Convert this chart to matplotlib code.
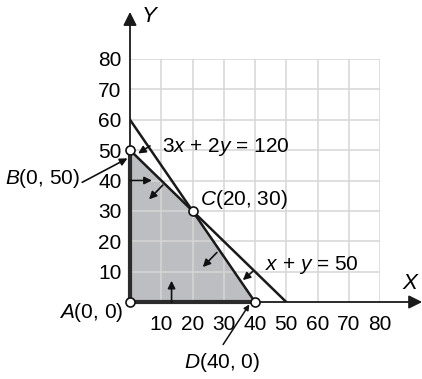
import numpy as np
import matplotlib.pyplot as plt
from matplotlib import font_manager

names = set(f.name for f in font_manager.fontManager.ttflist)
fam = 'Liberation Sans Narrow' if 'Liberation Sans Narrow' in names else 'Liberation Sans'
plt.rcParams['font.family'] = [fam, 'DejaVu Sans']
plt.rcParams['mathtext.fontset'] = 'custom'
plt.rcParams['mathtext.rm'] = fam
plt.rcParams['mathtext.it'] = fam + ':italic'

# data
ticks = [10, 20, 30, 40, 50, 60, 70, 80]
region_x = [0, 0, 20, 40]
region_y = [0, 50, 30, 0]
line1_x = [0, 40]      # 3x + 2y = 120
line1_y = [60, 0]
line2_x = [0, 50]      # x + y = 50
line2_y = [50, 0]
corner_x = [0, 0, 20, 40]
corner_y = [0, 50, 30, 0]
corner_names = ['$A$(0, 0)', '$B$(0, 50)', '$C$(20, 30)', '$D$(40, 0)']
# direction arrows (start, end)
arrows = [((0, 40), (7, 40)),
          ((13.3, 0), (13.3, 7)),
          ((6.4, 51.4), (2.6, 48.9)),
          ((10.5, 38.5), (6.1, 33.8)),
          ((27.8, 16.3), (23.3, 11.5)),
          ((39.2, 10), (36.1, 7.2))]

fig = plt.figure(figsize=(4.22, 3.79), dpi=100)
ax = fig.add_axes([130/422, 77/379, 250/422, 243/379])
ax.set_xlim(0, 80)
ax.set_ylim(0, 80)
for s in ax.spines.values():
    s.set_visible(False)
ax.set_xticks(ticks)
ax.set_yticks(ticks)
ax.tick_params(length=0, labelsize=15)
ax.tick_params(axis='x', pad=9)
ax.tick_params(axis='y', pad=6)
ax.grid(True, color='#d6d6d6', lw=1.1)
ax.set_axisbelow('line')

ax.fill(region_x, region_y, color='#bdbec1', lw=0, zorder=1)
ax.plot(line1_x, line1_y, color='#1a1a1a', lw=1.8, zorder=3)
ax.plot(line2_x, line2_y, color='#1a1a1a', lw=1.8, zorder=3)

# axes with arrows
ax.annotate('', xy=(93.5, 0), xytext=(0, 0), annotation_clip=False,
            arrowprops=dict(arrowstyle='-|>', color='#1a1a1a', lw=1.3,
                            mutation_scale=20, shrinkA=0, shrinkB=0), zorder=3)
ax.annotate('', xy=(0, 95.5), xytext=(0, 0), annotation_clip=False,
            arrowprops=dict(arrowstyle='-|>', color='#1a1a1a', lw=1.3,
                            mutation_scale=20, shrinkA=0, shrinkB=0), zorder=3)
ax.plot([0, 0], [0, 50], color='#2b2b2b', lw=3, zorder=3, clip_on=False)
ax.plot([0, 40], [0, 0], color='#2b2b2b', lw=3, zorder=3, clip_on=False)
ax.text(90, 6, '$X$', fontsize=16, ha='center', va='center')
ax.text(6.4, 94, '$Y$', fontsize=16, ha='center', va='center')

for (x0, y0), (x1, y1) in arrows:
    ax.annotate('', xy=(x1, y1), xytext=(x0, y0),
                arrowprops=dict(arrowstyle='-|>', color='#111111', lw=1.2,
                                mutation_scale=11, shrinkA=0, shrinkB=0), zorder=4)

ax.plot(corner_x, corner_y, 'o', ms=6.5, mfc='white', mec='#111111', mew=1.2,
        zorder=5, clip_on=False)

ax.text(10.2, 51, '3$x$ + 2$y$ = 120', fontsize=15, ha='left', va='center')
ax.text(43.1, 12.2, '$x$ + $y$ = 50', fontsize=15, ha='left', va='center')
ax.text(-2.2, -3.4, corner_names[0], fontsize=15, ha='right', va='center')
ax.text(-16, 40.8, corner_names[1], fontsize=15, ha='right', va='center')
ax.text(22.4, 33.6, corner_names[2], fontsize=15, ha='left', va='center')
ax.text(29.6, -19.8, corner_names[3], fontsize=15, ha='center', va='center')

ax.annotate('', xy=(-0.8, 47.3), xytext=(-15.3, 39.4), annotation_clip=False,
            arrowprops=dict(arrowstyle='-|>', color='#111111', lw=1.2,
                            mutation_scale=11, shrinkA=0, shrinkB=0))
ax.annotate('', xy=(38.2, -0.8), xytext=(29.8, -14), annotation_clip=False,
            arrowprops=dict(arrowstyle='-|>', color='#111111', lw=1.1,
                            mutation_scale=8, shrinkA=0, shrinkB=0))

fig.savefig('out.png', dpi=100)
